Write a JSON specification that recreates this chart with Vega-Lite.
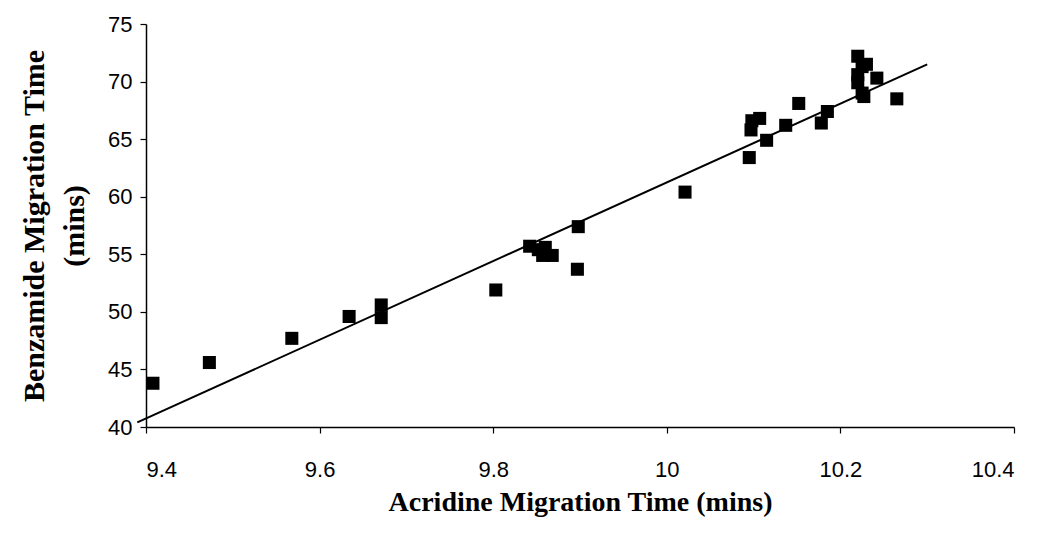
{
  "$schema": "https://vega.github.io/schema/vega-lite/v6.json",
  "width": 868,
  "height": 403,
  "autosize": "none",
  "padding": {"left": 146, "top": 24, "right": 27, "bottom": 107},
  "background": "white",
  "config": {
    "view": {"stroke": null},
    "axis": {
      "grid": false,
      "domainColor": "black",
      "domainWidth": 1.5,
      "tickColor": "black",
      "tickWidth": 1.2,
      "tickSize": 6,
      "labelColor": "black",
      "titleColor": "black",
      "labelFont": "Liberation Sans",
      "labelFontSize": 22,
      "titleFont": "Liberation Serif"
    }
  },
  "datasets": {
    "points": [
      {"acridine": 9.408, "benzamide": 43.8},
      {"acridine": 9.473, "benzamide": 45.6},
      {"acridine": 9.568, "benzamide": 47.7},
      {"acridine": 9.634, "benzamide": 49.6},
      {"acridine": 9.671, "benzamide": 50.6},
      {"acridine": 9.671, "benzamide": 49.5},
      {"acridine": 9.803, "benzamide": 51.9},
      {"acridine": 9.842, "benzamide": 55.7},
      {"acridine": 9.852, "benzamide": 55.4},
      {"acridine": 9.860, "benzamide": 55.6},
      {"acridine": 9.857, "benzamide": 54.9},
      {"acridine": 9.868, "benzamide": 54.9},
      {"acridine": 9.898, "benzamide": 57.4},
      {"acridine": 9.897, "benzamide": 53.7},
      {"acridine": 10.021, "benzamide": 60.4},
      {"acridine": 10.095, "benzamide": 63.4},
      {"acridine": 10.098, "benzamide": 66.6},
      {"acridine": 10.107, "benzamide": 66.8},
      {"acridine": 10.097, "benzamide": 65.8},
      {"acridine": 10.115, "benzamide": 64.9},
      {"acridine": 10.137, "benzamide": 66.2},
      {"acridine": 10.152, "benzamide": 68.1},
      {"acridine": 10.178, "benzamide": 66.4},
      {"acridine": 10.185, "benzamide": 67.4},
      {"acridine": 10.220, "benzamide": 72.2},
      {"acridine": 10.225, "benzamide": 71.3},
      {"acridine": 10.220, "benzamide": 70.6},
      {"acridine": 10.220, "benzamide": 69.9},
      {"acridine": 10.225, "benzamide": 69.0},
      {"acridine": 10.227, "benzamide": 68.7},
      {"acridine": 10.230, "benzamide": 71.5},
      {"acridine": 10.242, "benzamide": 70.3},
      {"acridine": 10.265, "benzamide": 68.5}
    ],
    "fit": [
      {"acridine": 9.39, "benzamide": 40.4},
      {"acridine": 10.3, "benzamide": 71.5}
    ]
  },
  "layer": [
    {
      "data": {"name": "fit"},
      "mark": {"type": "line", "color": "black", "strokeWidth": 2, "clip": false},
      "encoding": {
        "x": {"field": "acridine", "type": "quantitative"},
        "y": {"field": "benzamide", "type": "quantitative"}
      }
    },
    {
      "data": {"name": "points"},
      "mark": {"type": "square", "color": "black", "filled": true, "opacity": 1, "size": 170},
      "encoding": {
        "x": {
          "field": "acridine",
          "type": "quantitative",
          "scale": {"domain": [9.4, 10.4], "nice": false, "zero": false},
          "axis": {
            "values": [9.4, 9.6, 9.8, 10, 10.2, 10.4],
            "format": ".1~f",
            "labelPadding": 26,
            "title": "Acridine Migration Time (mins)",
            "titleFontSize": 28,
            "titleFontWeight": "bold",
            "titlePadding": 8
          }
        },
        "y": {
          "field": "benzamide",
          "type": "quantitative",
          "scale": {"domain": [40, 75], "nice": false, "zero": false},
          "axis": {
            "values": [40, 45, 50, 55, 60, 65, 70, 75],
            "labelPadding": 8,
            "title": ["Benzamide Migration Time", "(mins)"],
            "titleFontSize": 30,
            "titleFontWeight": "bold",
            "titleLineHeight": 40,
            "titlePadding": 18
          }
        }
      }
    }
  ]
}
